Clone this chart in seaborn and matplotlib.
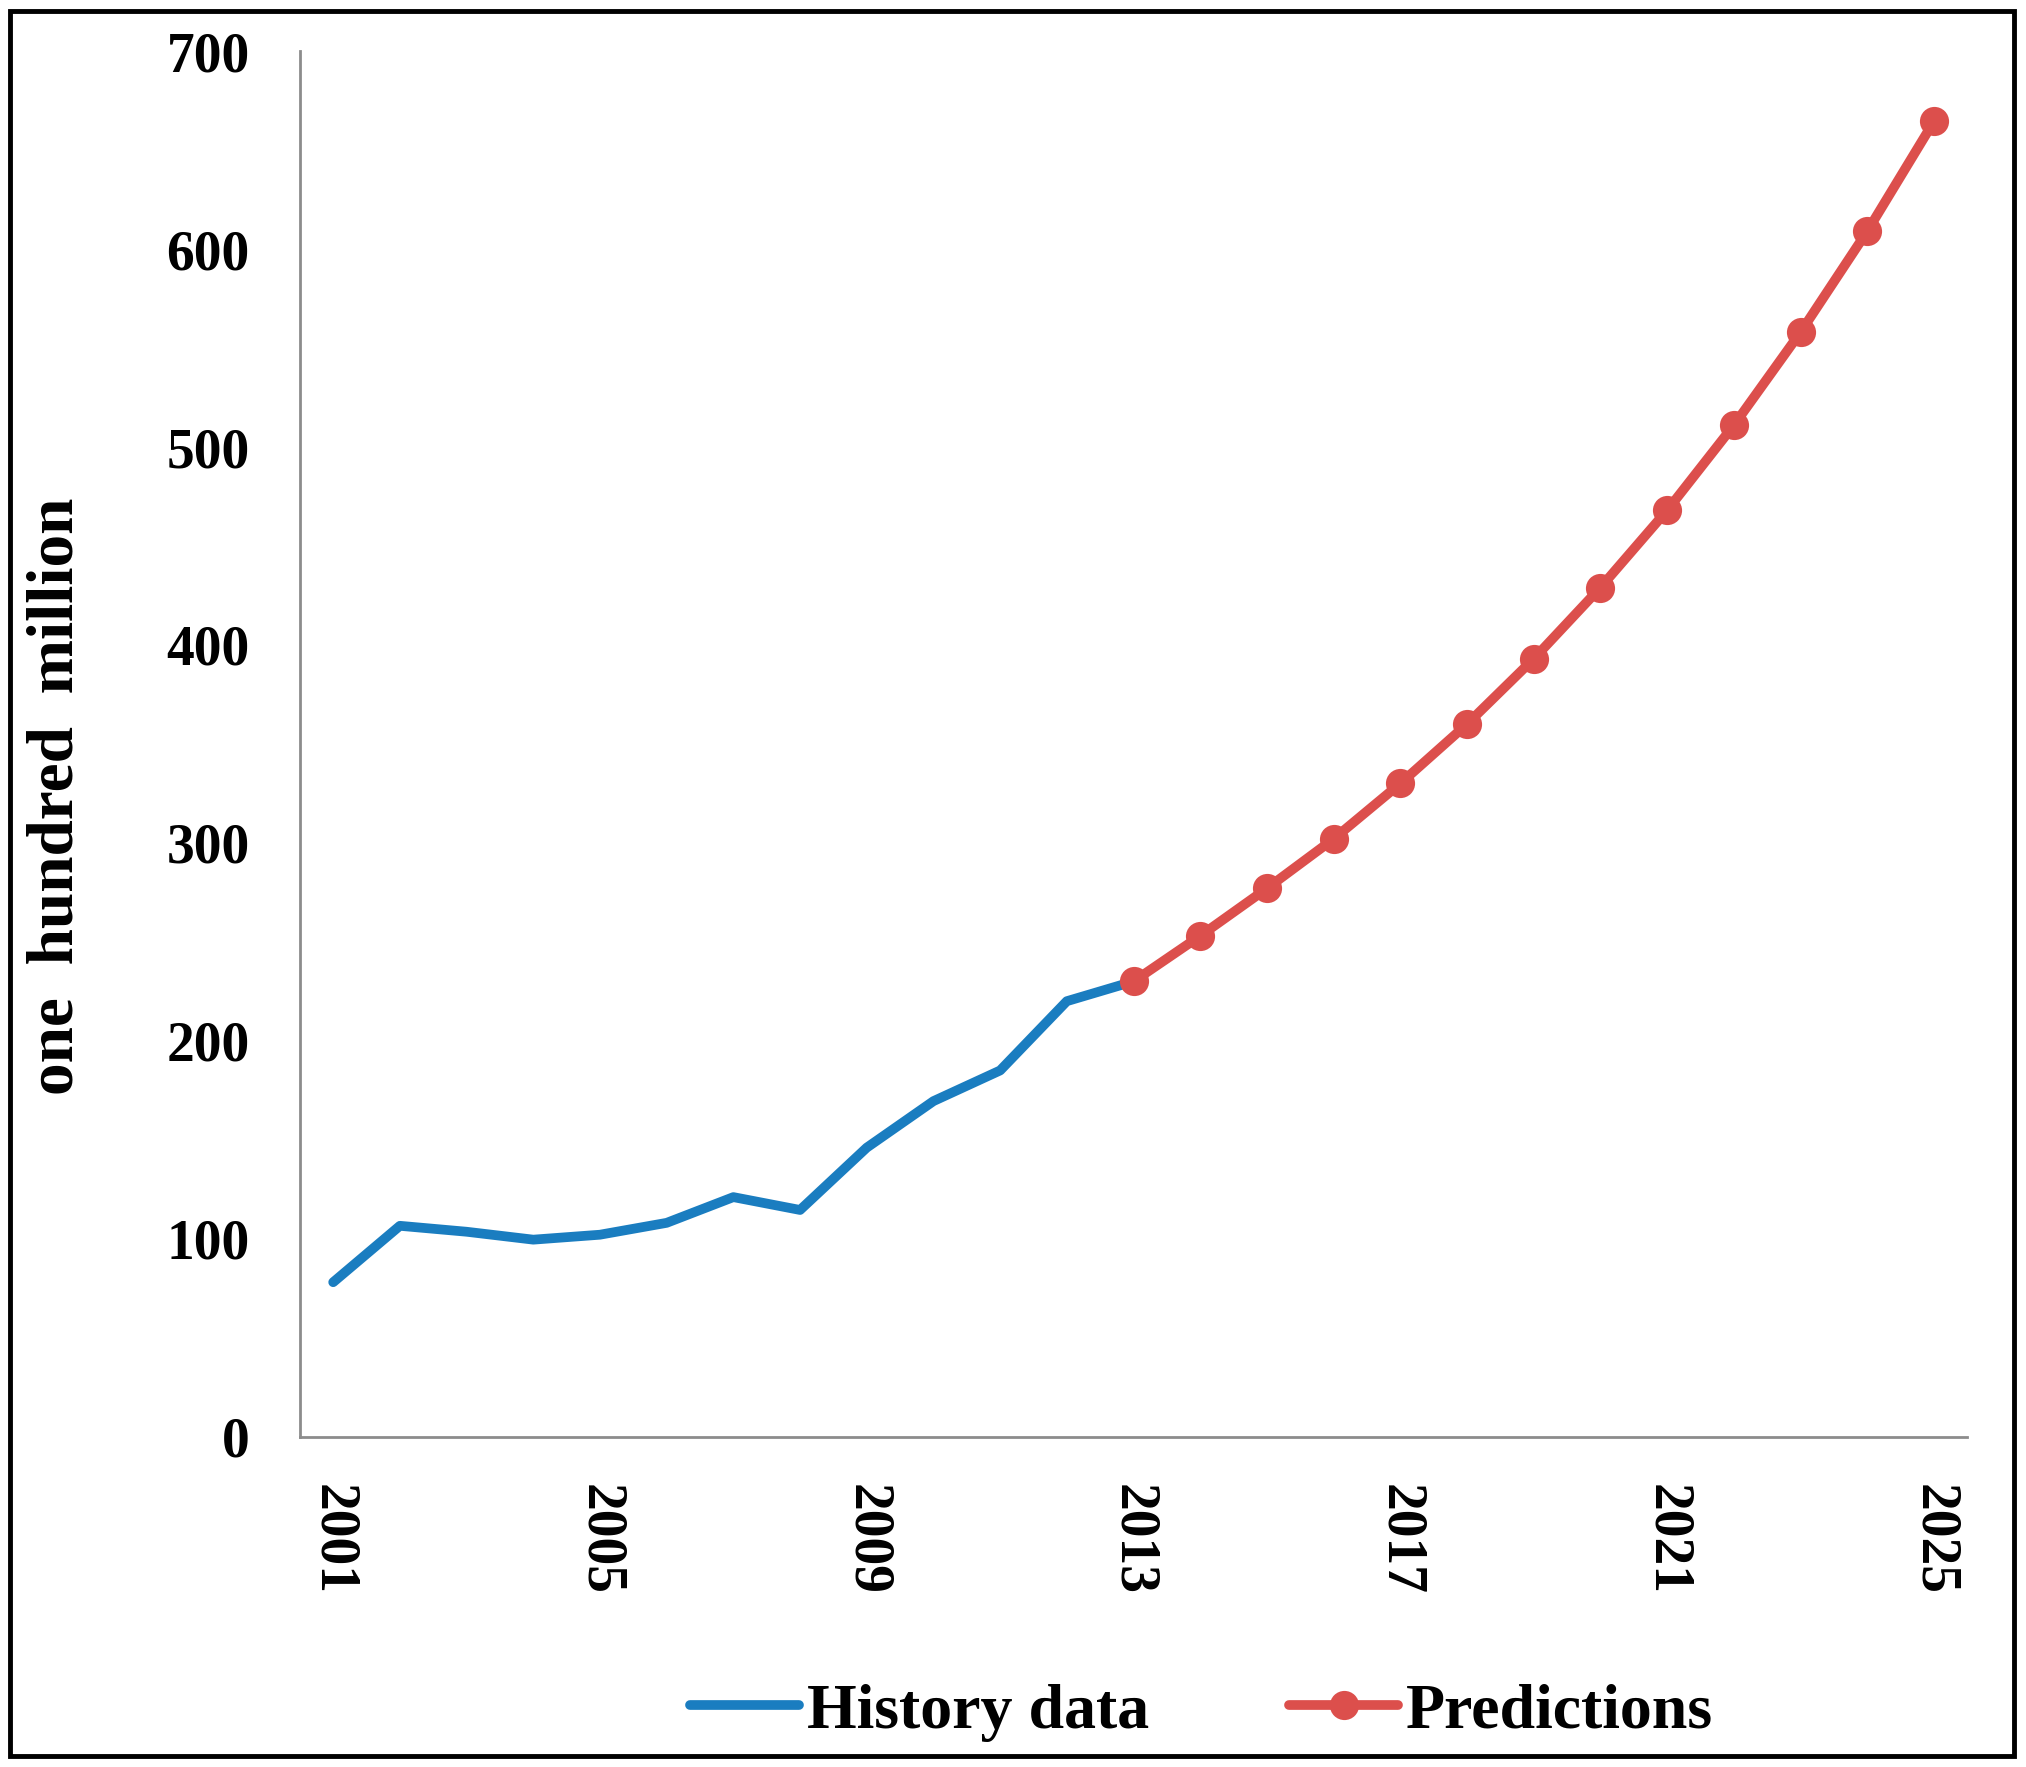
import matplotlib
matplotlib.use("Agg")
import matplotlib.pyplot as plt
import seaborn as sns
import pandas as pd
from matplotlib.patches import Rectangle

# ---- data ----
hist_years = [2001, 2002, 2003, 2004, 2005, 2006, 2007, 2008, 2009, 2010, 2011, 2012, 2013]
hist_values = [78, 106.5, 103.5, 99.5, 102, 108, 121, 114.5, 146, 169.5, 185, 220, 230]
pred_years = [2013, 2014, 2015, 2016, 2017, 2018, 2019, 2020, 2021, 2022, 2023, 2024, 2025]
pred_values = [230, 253, 277, 302, 330, 360, 393, 429, 468, 511, 558, 609, 664.5]
xtick_years = [2001, 2005, 2009, 2013, 2017, 2021, 2025]
ytick_values = [0, 100, 200, 300, 400, 500, 600, 700]
series_names = ["History data", "Predictions"]
ylabel_text = "one  hundred  million"

hist_df = pd.DataFrame({"year": hist_years, "value": hist_values})
pred_df = pd.DataFrame({"year": pred_years, "value": pred_values})

sns.set_theme(style="white")
plt.rcParams["font.family"] = ["Liberation Serif", "DejaVu Serif"]
plt.rcParams["font.weight"] = "bold"
plt.rcParams["text.color"] = "black"
plt.rcParams["xtick.color"] = "black"
plt.rcParams["ytick.color"] = "black"
plt.rcParams["axes.labelcolor"] = "black"

fig = plt.figure(figsize=(20.26, 17.67), dpi=100)
ax = fig.add_axes([0.148, 0.187, 0.823, 0.784])

blue = "#1A7DC0"
red = "#DC4F4C"

sns.lineplot(data=hist_df, x="year", y="value", ax=ax, color=blue, linewidth=7,
             label=series_names[0], solid_capstyle="round", solid_joinstyle="round")
sns.lineplot(data=pred_df, x="year", y="value", ax=ax, color=red, linewidth=7,
             marker="o", markersize=21, markeredgewidth=0, label=series_names[1],
             solid_joinstyle="round")

ax.set_xlim(2000.5, 2025.5)
ax.set_ylim(0, 700)
ax.set_xticks(xtick_years)
ax.set_xticklabels([str(y) for y in xtick_years], rotation=-90, fontsize=40,
                   fontweight="bold", color="black")
ax.set_yticks(ytick_values)
ax.set_yticklabels([str(v) for v in ytick_values], fontsize=40, fontweight="bold",
                   color="black")
ax.tick_params(axis="both", length=0)
ax.tick_params(axis="y", pad=36)
ax.tick_params(axis="x", pad=34)
ax.set_xlabel("")
ax.set_ylabel(ylabel_text, fontsize=47, fontweight="bold", color="black")
ax.yaxis.set_label_coords(-0.128, 0.462)

for side in ["top", "right"]:
    ax.spines[side].set_visible(False)
for side in ["left", "bottom"]:
    ax.spines[side].set_color("#8C8C8C")
    ax.spines[side].set_linewidth(2)
ax.grid(False)

ax.legend_.remove()
handles, labels = ax.get_legend_handles_labels()
fig.legend(handles, labels, loc="center", bbox_to_anchor=(0.593, 0.031), ncol=2,
           frameon=False, prop={"family": "Liberation Serif", "weight": "bold", "size": 46},
           handlelength=1.7, handletextpad=0.12, columnspacing=2.2, numpoints=1,
           labelcolor="black")

fig.patches.append(Rectangle((0.005, 0.006), 0.989, 0.988, transform=fig.transFigure,
                             fill=False, linewidth=3.5, edgecolor="black"))

fig.savefig("out.png", dpi=100)
